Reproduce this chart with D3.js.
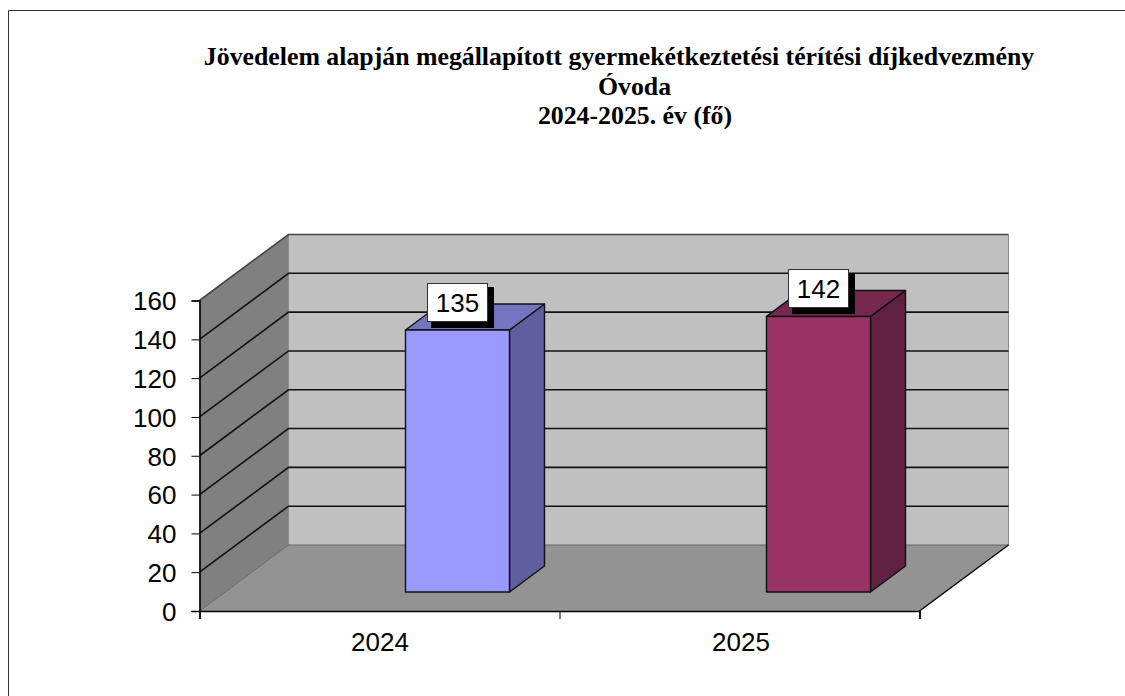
<!DOCTYPE html>
<html>
<head>
<meta charset="utf-8">
<script src="https://cdn.jsdelivr.net/npm/d3@7"></script>
<style>
  html, body { margin: 0; padding: 0; background: #fff; }
  svg { display: block; }
  .axis text { font-family: "Liberation Sans", sans-serif; font-size: 26px; fill: #000; }
</style>
</head>
<body>
<script>
var categories = ["2024", "2025"];
var values = [135, 142];
var yTicks = [0, 20, 40, 60, 80, 100, 120, 140, 160];
var titleLines = [
  "Jövedelem alapján megállapított gyermekétkeztetési térítési díjkedvezmény",
  "Óvoda",
  "2024-2025. év (fő)"
];
var barColors = [
  {front: "#9999ff", side: "#5f5f9f", top: "#7575bf"},
  {front: "#993366", side: "#60203f", top: "#77284f"}
];

var width = 1125, height = 696;
var left = 199.5, right = 919.5, bottom = 611, top_ = 300.5;
// depth of the floor and of the bars, in pixels
var depthX = 89, depthY = 66;
var barDepthX = 35, barDepthY = 26;
var barOffset = 206, barWidth = 104, barLift = 19;
// first title line sits further left than the other two
var titleX = [619, 634.5, 635];

var svg = d3.select("body").append("svg")
  .attr("width", width)
  .attr("height", height);

var xScale = d3.scaleBand().domain(categories).range([left, right + 2]);
var xTicks = d3.scaleLinear().domain([0, 2]).range([left, right]);
var yScale = d3.scaleLinear().domain([0, 160]).range([bottom, top_]);

var line = function(pts) { return "M" + pts.map(function(p) { return p.join(","); }).join("L"); };
var poly = function(pts) { return line(pts) + "Z"; };

// page frame, only left and top are visible
svg.append("path")
  .attr("d", line([[8.5, height], [8.5, 10.5], [width, 10.5]]))
  .attr("fill", "none")
  .attr("stroke", "#333")
  .attr("stroke-width", 1);

// title
svg.append("g").selectAll("text")
  .data(titleLines)
  .enter()
  .append("text")
  .attr("x", function(d, i) { return titleX[i]; })
  .attr("y", function(d, i) { return 65 + i * 29.5; })
  .attr("text-anchor", "middle")
  .attr("font-family", "'Liberation Serif', serif")
  .attr("font-weight", "bold")
  .attr("font-size", 25.8)
  .text(function(d) { return d; });

// walls
svg.append("path")
  .attr("d", poly([[left, yScale(0)], [left, yScale(160)], [left + depthX, yScale(160) - depthY], [left + depthX, yScale(0) - depthY]]))
  .attr("fill", "#808080");
svg.append("path")
  .attr("d", poly([[left + depthX, yScale(160) - depthY], [right + depthX, yScale(160) - depthY], [right + depthX, yScale(0) - depthY], [left + depthX, yScale(0) - depthY]]))
  .attr("fill", "#c0c0c0");
svg.append("line")
  .attr("x1", right + depthX).attr("x2", right + depthX)
  .attr("y1", yScale(160) - depthY).attr("y2", yScale(0) - depthY)
  .attr("stroke", "#8c8c8c").attr("stroke-width", 1);
svg.append("line")
  .attr("x1", left + depthX).attr("x2", left + depthX)
  .attr("y1", yScale(160) - depthY).attr("y2", yScale(0) - depthY)
  .attr("stroke", "#8c8c8c").attr("stroke-width", 1);

// gridlines
svg.append("g").selectAll("path")
  .data(yTicks.slice(1))
  .enter()
  .append("path")
  .attr("d", function(d) {
    var y = yScale(d);
    return line([[left, y], [left + depthX, y - depthY], [right + depthX, y - depthY]]);
  })
  .attr("fill", "none")
  .attr("stroke", function(d) { return d == 160 ? "#444" : "#111"; })
  .attr("stroke-width", 1.6);

// floor
svg.append("path")
  .attr("d", poly([[left, bottom], [left + depthX, bottom - depthY], [right + depthX, bottom - depthY], [right, bottom]]))
  .attr("fill", "#939393");
svg.append("path")
  .attr("d", line([[right + depthX, bottom - depthY], [left + depthX, bottom - depthY], [left, bottom]]))
  .attr("fill", "none").attr("stroke", "#666").attr("stroke-width", 1);
svg.append("line")
  .attr("x1", right).attr("y1", bottom)
  .attr("x2", right + depthX).attr("y2", bottom - depthY)
  .attr("stroke", "#000").attr("stroke-width", 1.4);

// axes
var yAxis = d3.axisLeft(yScale).tickValues(yTicks).tickSize(8).tickPadding(15);
var gy = svg.append("g").attr("class", "axis").attr("transform", "translate(" + left + ",0)").call(yAxis);
gy.select(".domain").attr("stroke", "#000").attr("stroke-width", 1.6);
gy.selectAll("text").attr("dy", "0.36em");

var xAxis = d3.axisBottom(xTicks).tickValues([0, 1, 2]).tickSize(8).tickFormat("");
var gx = svg.append("g").attr("class", "axis").attr("transform", "translate(0," + bottom + ")").call(xAxis);
gx.select(".domain").attr("stroke", "#000").attr("stroke-width", 1.6);

var xLabels = d3.axisBottom(xScale).tickSize(0).tickPadding(22);
var gl = svg.append("g").attr("class", "axis").attr("transform", "translate(0," + bottom + ")").call(xLabels);
gl.select(".domain").remove();

// bars
var bars = svg.append("g").selectAll("g")
  .data(values)
  .enter()
  .append("g")
  .attr("stroke", "#111")
  .attr("stroke-width", 1.4)
  .attr("stroke-linejoin", "round");

var barLeft = function(d, i) { return xScale(categories[i]) + barOffset; };
var barTop = function(d) { return yScale(d) - barLift; };
var barBottom = yScale(0) - barLift;

bars.append("path")
  .attr("d", function(d, i) {
    var x = barLeft(d, i) + barWidth, y = barTop(d);
    return poly([[x, y], [x + barDepthX, y - barDepthY], [x + barDepthX, barBottom - barDepthY], [x, barBottom]]);
  })
  .attr("fill", function(d, i) { return barColors[i].side; });
bars.append("path")
  .attr("d", function(d, i) {
    var x = barLeft(d, i), y = barTop(d);
    return poly([[x, y], [x + barDepthX, y - barDepthY], [x + barWidth + barDepthX, y - barDepthY], [x + barWidth, y]]);
  })
  .attr("fill", function(d, i) { return barColors[i].top; });
bars.append("rect")
  .attr("x", barLeft)
  .attr("y", barTop)
  .attr("width", barWidth)
  .attr("height", function(d) { return barBottom - barTop(d); })
  .attr("fill", function(d, i) { return barColors[i].front; });

// value labels with their shadow box
var labels = svg.append("g").selectAll("g")
  .data(values)
  .enter()
  .append("g")
  .attr("transform", function(d, i) {
    return "translate(" + Math.round(barLeft(d, i) + 21.5) + "," + Math.round(barTop(d) - 47) + ")";
  });
labels.append("rect")
  .attr("x", 4).attr("y", 4)
  .attr("width", 63).attr("height", 41)
  .attr("fill", "#000");
labels.append("rect")
  .attr("x", 0.5).attr("y", 0.5)
  .attr("width", 60).attr("height", 38)
  .attr("fill", "#fff")
  .attr("stroke", "#333")
  .attr("stroke-width", 1);
labels.append("text")
  .attr("x", 30.5)
  .attr("y", 29)
  .attr("text-anchor", "middle")
  .attr("font-family", "'Liberation Sans', sans-serif")
  .attr("font-size", 26)
  .text(function(d) { return d; });
</script>
</body>
</html>
